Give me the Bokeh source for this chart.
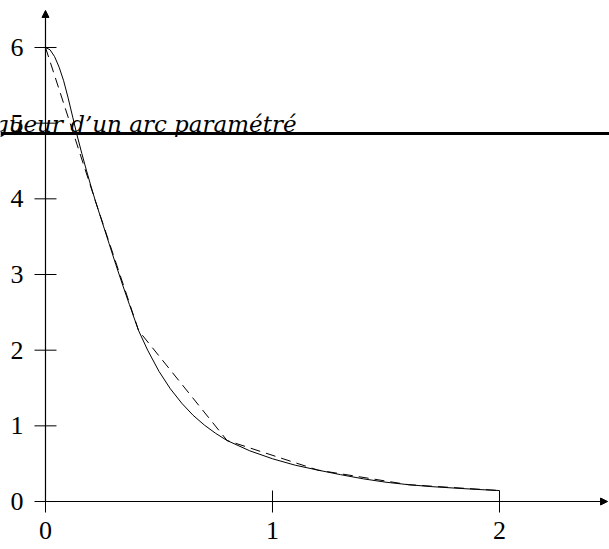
from bokeh.plotting import figure
from bokeh.models import Range1d, Arrow, NormalHead, Span, Label, ColumnDataSource
from bokeh.core.properties import value
from bokeh.embed import file_html
from bokeh.resources import INLINE
import math

# Parametric arc, sampled points (x, y)
arc_x = [0.0, 0.02, 0.04, 0.06, 0.08, 0.10, 0.12, 0.14, 0.16, 0.18, 0.20, 0.22,
         0.25, 0.28, 0.31, 0.34, 0.37, 0.41, 0.45, 0.50, 0.55, 0.60, 0.65, 0.70,
         0.75, 0.80, 0.90, 1.00, 1.10, 1.20, 1.30, 1.40, 1.50, 1.60, 1.70, 1.80,
         1.90, 2.00]
arc_y = [6.00, 5.97, 5.88, 5.74, 5.56, 5.33, 5.08, 4.83, 4.60, 4.38, 4.17, 3.97,
         3.69, 3.41, 3.13, 2.86, 2.60, 2.26, 2.00, 1.72, 1.49, 1.30, 1.14, 1.01,
         0.90, 0.806, 0.67, 0.565, 0.48, 0.415, 0.355, 0.30, 0.255, 0.222, 0.197,
         0.178, 0.16, 0.145]

# Inscribed polygonal line (chord approximation of the arc)
chord_x = [0.0, 0.22, 0.41, 0.80, 1.20, 1.60, 2.00]
chord_y = [6.00, 3.97, 2.26, 0.806, 0.415, 0.222, 0.145]

x_ticks = [0, 1, 2]
y_ticks = [0, 1, 2, 3, 4, 5, 6]
x_tick_labels = ["0", "1", "2"]
y_tick_labels = ["0", "1", "2", "3", "4", "5", "6"]

title_text = "Longueur d’un arc paramétré"
rule_level = 4.863

W, H = 609, 549
FONT = "Liberation Serif"

p = figure(width=W, height=H, output_backend="svg", toolbar_location=None,
           x_range=Range1d(-0.1982, 2.4846), y_range=Range1d(-0.634, 6.621),
           min_border=0, outline_line_color=None)
p.xaxis.visible = False
p.yaxis.visible = False
p.grid.visible = False
p.background_fill_color = "white"
p.border_fill_color = "white"

# axes through the origin, with arrow heads
p.add_layout(Arrow(x_start=0, y_start=0, x_end=2.476, y_end=0, line_width=1.2,
                   line_color="black",
                   end=NormalHead(size=7, fill_color="black", line_color="black")))
p.add_layout(Arrow(x_start=0, y_start=0, x_end=0, y_end=6.49, line_width=1.2,
                   line_color="black",
                   end=NormalHead(size=7, fill_color="black", line_color="black")))

# tick crosses
p.scatter(x=x_ticks, y=[0] * len(x_ticks), marker="dash", size=22, angle=math.pi / 2,
          line_color="black", line_width=1)
p.scatter(x=[0] * len(y_ticks), y=y_ticks, marker="dash", size=22,
          line_color="black", line_width=1)

# tick labels
p.text(x=[0] * len(y_ticks), y=y_ticks, text=y_tick_labels, x_offset=-22,
       text_align="right", text_baseline="middle", text_font=value(FONT),
       text_font_size="26px", text_color="black")
p.text(x=x_ticks, y=[0] * len(x_ticks), text=x_tick_labels, y_offset=20,
       text_align="center", text_baseline="top", text_font=value(FONT),
       text_font_size="26px", text_color="black")

# arc and chords
src_arc = ColumnDataSource(dict(x=arc_x, y=arc_y))
src_chord = ColumnDataSource(dict(x=chord_x, y=chord_y))
p.line("x", "y", source=src_arc, line_color="black", line_width=1)
p.line("x", "y", source=src_chord, line_color="black", line_width=1, line_dash="10 6")

# heading and its rule
p.add_layout(Span(location=rule_level, dimension="width", line_color="black", line_width=3))
p.add_layout(Label(x=296, y=H - 123, x_units="screen", y_units="screen",
                   text=title_text, text_align="right", text_baseline="alphabetic",
                   text_font="DejaVu Serif", text_font_style="italic",
                   text_font_size="23px", text_color="black"))

open("out.html", "w").write(file_html(p, INLINE))
